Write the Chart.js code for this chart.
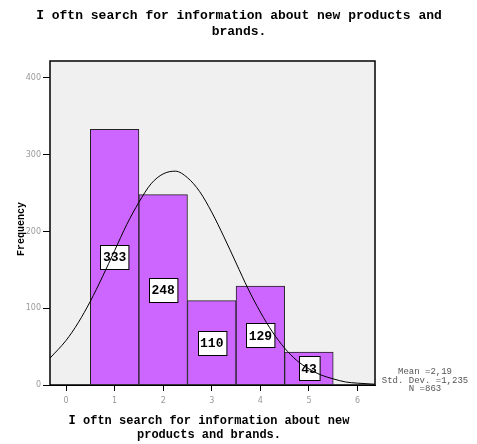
<!DOCTYPE html>
<html>
<head>
<meta charset="utf-8">
<script src="https://cdn.jsdelivr.net/npm/chart.js@4/dist/chart.umd.min.js"></script>
<style>
  body { margin: 0; background: #fff; }
  canvas { display: block; }
</style>
</head>
<body>
<canvas id="myChart" width="477" height="444"></canvas>
<script>
'use strict';

// histogram bins (answer 1..5) and counts
let categories = [1, 2, 3, 4, 5];
let counts = [333, 248, 110, 129, 43];

// normal curve
let curveX = [-0.33, 0, 0.25, 0.5, 0.75, 1, 1.25, 1.5, 1.75, 2, 2.25, 2.5, 2.75, 3, 3.25, 3.5, 3.75, 4, 4.25, 4.5, 4.75, 5, 5.25, 5.5, 5.75, 6, 6.36];
let curveY = [35, 58, 81, 109, 141, 175, 209, 238, 262, 275, 278.5, 270, 252, 225, 193, 159, 125, 95, 69, 48, 32, 21, 13, 8, 4, 2.4, 1];

let xTicks = [0, 1, 2, 3, 4, 5, 6];
let yTicks = [0, 100, 200, 300, 400];

let titleLines = ['I oftn search for information about new products and', 'brands.'];
let xTitleLines = ['I oftn search for information about new', 'products and brands.'];
let yTitle = 'Frequency';
let statLines = ['Mean =2,19', 'Std. Dev. =1,235', 'N =863'];

let barData = [];
for (let i = 0; i < categories.length; i++) {
  barData.push({x: categories[i], y: counts[i]});
}
let curveData = [];
for (let i = 0; i < curveX.length; i++) {
  curveData.push({x: curveX[i], y: curveY[i]});
}

let mono = '"Liberation Mono", "Courier New", monospace';

let frame = {
  id: 'frame',
  beforeDatasetsDraw(chart) {
    let ctx = chart.ctx;
    let a = chart.chartArea;
    ctx.save();
    ctx.fillStyle = '#f0f0f0';
    ctx.fillRect(a.left, a.top, a.right - a.left, a.bottom - a.top);
    ctx.restore();
  },
  afterDatasetDraw(chart, args) {
    // value boxes sit between the bars and the curve
    if (args.index !== 0) return;
    let ctx = chart.ctx;
    let yScale = chart.scales.y;
    ctx.save();
    ctx.font = 'bold 13px ' + mono;
    ctx.textAlign = 'center';
    ctx.textBaseline = 'middle';
    args.meta.data.forEach(function (bar, i) {
      let txt = String(counts[i]);
      let w = ctx.measureText(txt).width + 5;
      let h = 24;
      let cy = yScale.getPixelForValue(counts[i] / 2);
      let bx = Math.round(bar.x - w / 2) + 0.5;
      let by = Math.round(cy - h / 2) + 0.5;
      ctx.fillStyle = '#fff';
      ctx.fillRect(bx, by, w, h);
      ctx.strokeStyle = '#000';
      ctx.lineWidth = 1;
      ctx.strokeRect(bx, by, w, h);
      ctx.fillStyle = '#000';
      ctx.fillText(txt, bar.x, cy + 1);
    });
    ctx.restore();
  },
  afterDraw(chart) {
    let ctx = chart.ctx;
    let a = chart.chartArea;
    ctx.save();
    ctx.strokeStyle = '#000';
    ctx.lineWidth = 1.5;
    ctx.strokeRect(a.left, a.top, a.right - a.left, a.bottom - a.top);

    ctx.fillStyle = '#000';
    ctx.textAlign = 'center';
    ctx.textBaseline = 'middle';
    ctx.font = 'bold 13px ' + mono;
    ctx.fillText(titleLines[0], 239, 16);
    ctx.fillText(titleLines[1], 239, 32);

    ctx.font = 'bold 12px ' + mono;
    ctx.fillText(xTitleLines[0], 209, 421);
    ctx.fillText(xTitleLines[1], 209, 435);

    ctx.save();
    ctx.translate(21, 229);
    ctx.rotate(-Math.PI / 2);
    ctx.font = 'bold 10px ' + mono;
    ctx.fillText(yTitle, 0, 0);
    ctx.restore();

    ctx.fillStyle = '#555';
    ctx.font = '9px ' + mono;
    for (let i = 0; i < statLines.length; i++) {
      ctx.fillText(statLines[i], 425, 372 + i * 8.5);
    }
    ctx.restore();
  }
};

let ctx = document.getElementById('myChart').getContext('2d');
new Chart(ctx, {
  type: 'bar',
  data: {
    datasets: [{
      type: 'bar',
      label: 'Frequency',
      data: barData,
      backgroundColor: '#cc66ff',
      borderColor: '#222222',
      borderWidth: 1,
      barPercentage: 1.0,
      categoryPercentage: 1.0,
      order: 1
    }, {
      type: 'line',
      label: 'Normal',
      data: curveData,
      borderColor: '#000',
      borderWidth: 1,
      pointRadius: 0,
      fill: false,
      cubicInterpolationMode: 'monotone',
      order: 0
    }]
  },
  options: {
    responsive: false,
    animation: false,
    layout: { padding: { top: 61, right: 102, left: 0, bottom: 0 } },
    plugins: {
      legend: { display: false },
      tooltip: { enabled: false }
    },
    scales: {
      x: {
        type: 'linear',
        min: -0.33,
        max: 6.36,
        offset: false,
        afterFit(scale) { scale.height = 59; },
        afterBuildTicks(scale) { scale.ticks = xTicks.map(v => ({value: v})); },
        ticks: { font: { family: '"DejaVu Sans"', size: 8 }, color: '#999', padding: 5, maxRotation: 0 },
        grid: { drawOnChartArea: false, offset: false, tickLength: 6, tickColor: '#000' },
        border: { color: '#000' }
      },
      y: {
        min: 0,
        max: 422,
        afterFit(scale) { scale.width = 50; },
        afterBuildTicks(scale) { scale.ticks = yTicks.map(v => ({value: v})); },
        ticks: { font: { family: '"DejaVu Sans"', size: 8 }, color: '#999', padding: 2 },
        grid: { drawOnChartArea: false, tickLength: 7, tickColor: '#000' },
        border: { color: '#000' }
      }
    }
  },
  plugins: [frame]
});
</script>
</body>
</html>
